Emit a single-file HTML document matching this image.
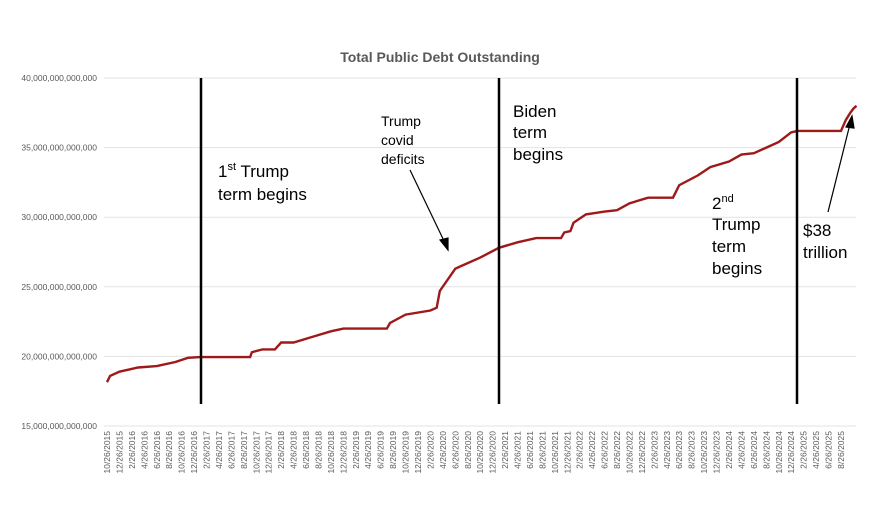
<!DOCTYPE html>
<html><head><meta charset="utf-8"><style>
body{margin:0;background:#fff;}
svg{display:block;font-family:"Liberation Sans",sans-serif;}
</style></head><body>
<svg id="s" width="894" height="515" viewBox="0 0 894 515">
<rect width="894" height="515" fill="#fff"/>
<text x="440" y="62" text-anchor="middle" font-size="14" font-weight="bold" fill="#595959">Total Public Debt Outstanding</text>
<g id="grid" stroke="#e3e3e3" stroke-width="1"></g>
<g id="ylab" font-size="8.5" fill="#595959" text-anchor="end"></g>
<g id="xlab" font-size="8.5" fill="#595959"></g>
<polyline id="line" fill="none" stroke="#9e1a1a" stroke-width="2.4" stroke-linejoin="miter"/>
<g stroke="#000" stroke-width="2.5">
<line x1="201" y1="78" x2="201" y2="404"/>
<line x1="499" y1="78" x2="499" y2="404"/>
<line x1="797" y1="78" x2="797" y2="404"/>
</g>
<g font-size="17" fill="#000">
<text x="218" y="177">1<tspan font-size="11" dy="-7">st</tspan><tspan dy="7"> Trump</tspan></text>
<text x="218" y="200">term begins</text>
<text x="513" y="117">Biden</text><text x="513" y="138">term</text><text x="513" y="160">begins</text>
<text x="712" y="209">2<tspan font-size="11" dy="-7">nd</tspan></text>
<text x="712" y="230">Trump</text><text x="712" y="252">term</text><text x="712" y="274">begins</text>
<text x="803" y="236">$38</text><text x="803" y="258">trillion</text>
</g>
<g font-size="14" fill="#000">
<text x="381" y="126">Trump</text><text x="381" y="145">covid</text><text x="381" y="164">deficits</text>
</g>
<g stroke="#000" stroke-width="1.2" fill="#000">
<line x1="410" y1="170" x2="445" y2="243"/>
<polygon points="448,250 440,240 448,238"/>
<line x1="828" y1="212" x2="850" y2="124"/>
<polygon points="852,116 846,127 854,128"/>
</g>
</svg>
<script>
var ns="http://www.w3.org/2000/svg";
function y(v){return 426-(v-15)*13.92;}
function x(t){return 107+t*6.22;}
var g=document.getElementById('grid'),yl=document.getElementById('ylab'),xl=document.getElementById('xlab');
for(var i=0;i<6;i++){var v=15+5*i,yy=y(v);
var l=document.createElementNS(ns,'line');l.setAttribute('x1',104);l.setAttribute('x2',856);l.setAttribute('y1',yy);l.setAttribute('y2',yy);g.appendChild(l);
var t=document.createElementNS(ns,'text');t.setAttribute('x',97);t.setAttribute('y',yy+3);t.textContent=v+',000,000,000,000';yl.appendChild(t);}
for(var k=0;k<=59;k++){var m=10+2*k-1,yr=2015+Math.floor(m/12),mo=m%12+1;
var t=document.createElementNS(ns,'text');var xx=x(2*k)+3;
t.setAttribute('transform','translate('+xx+',431) rotate(-90)');t.setAttribute('text-anchor','end');
t.textContent=mo+'/26/'+yr;xl.appendChild(t);}
var d=[[0,18.15],[0.5,18.6],[2,18.9],[5,19.2],[8,19.3],[11,19.6],[13,19.9],[15,19.95],[23,19.95],[23.3,20.3],[25,20.5],[27,20.5],[28,21.0],[30,21.0],[33,21.4],[36,21.8],[38,22.0],[45,22.0],[45.5,22.4],[48,23.0],[52,23.3],[53,23.5],[53.5,24.7],[56,26.3],[57,26.5],[60,27.1],[63,27.8],[66,28.2],[69,28.5],[73,28.5],[73.5,28.9],[74.5,29.0],[75,29.6],[77,30.2],[80,30.4],[82,30.5],[84,31.0],[87,31.4],[91,31.4],[92,32.3],[95,33.0],[97,33.6],[100,34.0],[102,34.5],[104,34.6],[106,35.0],[108,35.4],[110,36.1],[111,36.2],[118,36.2],[118.8,37.0],[119.5,37.5],[120,37.8],[120.5,38.0]];
var pts=d.map(function(p){return x(p[0]).toFixed(1)+','+y(p[1]).toFixed(1);});
document.getElementById('line').setAttribute('points',pts.join(' '));
</script>
</body></html>
